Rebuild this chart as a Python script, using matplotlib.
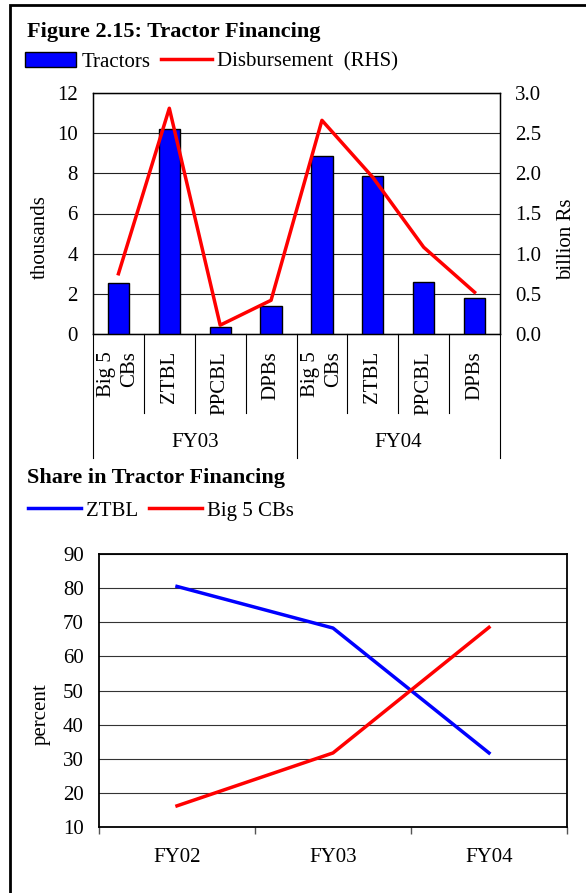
import numpy as np
import matplotlib
matplotlib.use('Agg')
import matplotlib.pyplot as plt
from matplotlib.lines import Line2D
from matplotlib.patches import Patch, Rectangle

plt.rcParams['font.family'] = ['Liberation Serif', 'DejaVu Serif']

# data
banks = ['Big 5\nCBs', 'ZTBL', 'PPCBL', 'DPBs', 'Big 5\nCBs', 'ZTBL', 'PPCBL', 'DPBs']
years_top = ['FY03', 'FY04']
tractors = [2.55, 10.2, 0.35, 1.4, 8.85, 7.85, 2.6, 1.8]          # thousands
disbursement = [0.75, 2.81, 0.11, 0.42, 2.66, 1.95, 1.08, 0.52]    # billion Rs (RHS)

years = ['FY02', 'FY03', 'FY04']
share_ztbl = [80.5, 68.3, 31.7]
share_big5 = [16.2, 31.7, 68.5]

W, H = 586, 893
fig = plt.figure(figsize=(W / 100, H / 100), dpi=100)
fs = 15

# outer frame (left and top edges visible)
fig.add_artist(Rectangle((10 / W, -0.05), 1.2, 1 - 5 / H + 0.05, transform=fig.transFigure,
                         fill=False, ec='black', lw=2))

# ---- top chart ----
fig.text(27 / W, 1 - 32 / H, 'Figure 2.15: Tractor Financing', fontsize=16, fontweight='bold',
         va='center', ha='left')

ax = fig.add_axes([93 / W, 1 - 334 / H, 407 / W, 241 / H])
x = np.arange(len(banks))
ax.bar(x, tractors, width=0.42, color='#0000FF', edgecolor='black', lw=1, zorder=3)
ax.set_xlim(-0.5, len(banks) - 0.5)
ax.set_ylim(0, 12)
ax.set_yticks(range(0, 13, 2))
ax.grid(axis='y', color='#222222', lw=0.8, zorder=0)
ax.set_xticks([])
ax.tick_params(axis='y', length=0, labelsize=fs, pad=11)
ax.spines[:].set_color('black')
ax.spines[:].set_linewidth(1)

ax2 = ax.twinx()
ax2.plot(x, disbursement, color='#FF0000', lw=2.5, zorder=4)
ax2.set_ylim(0, 3)
ax2.set_yticks(np.arange(0, 3.01, 0.5))
ax2.set_yticklabels(['%.1f' % v for v in np.arange(0, 3.01, 0.5)])
ax2.tick_params(axis='y', length=0, labelsize=fs, pad=11)
ax2.set_xlim(-0.5, len(banks) - 0.5)

# category labels and separators
tr = ax.get_xaxis_transform()
for i, b in enumerate(banks):
    ax.text(i, -0.07, b, transform=tr, rotation=90, ha='center', va='top',
            multialignment='right', fontsize=fs, linespacing=1.3)
for s in np.arange(0.5, len(banks) - 1, 1.0):
    long = (s == 3.5)
    ax.add_line(Line2D([s, s], [0, -0.515 if long else -0.328], transform=tr,
                       color='black', lw=0.8, clip_on=False))
for s in [-0.5, len(banks) - 0.5]:
    ax.add_line(Line2D([s, s], [0, -0.515], transform=tr, color='black', lw=0.8, clip_on=False))
for j, yr in enumerate(years_top):
    ax.text(1.5 + 4 * j, -0.45, yr, transform=tr, ha='center', va='center', fontsize=fs)

fig.text(40 / W, 1 - 237 / H, 'thousands', rotation=90, ha='center', va='center', fontsize=fs)
fig.text(567 / W, 1 - 239 / H, 'billion Rs', rotation=90, ha='center', va='center', fontsize=fs)

handles1 = [Patch(facecolor='#0000FF', edgecolor='black', lw=1),
            Line2D([], [], color='#FF0000', lw=2.5)]
fig.legend(handles1, ['Tractors', 'Disbursement  (RHS)'], loc='center left',
           bbox_to_anchor=(25 / W, 1 - 62 / H), ncol=2, frameon=False, fontsize=fs,
           handlelength=2.45, handleheight=0.7, handletextpad=0.26, columnspacing=0.5,
           borderpad=0, borderaxespad=0)

# ---- bottom chart ----
fig.text(27 / W, 1 - 478 / H, 'Share in Tractor Financing', fontsize=16, fontweight='bold',
         va='center', ha='left')

bx = fig.add_axes([99 / W, 1 - 827 / H, 468 / W, 273 / H])
xp = np.arange(len(years)) + 0.5
bx.plot(xp, share_ztbl, color='#0000FF', lw=2.5)
bx.plot(xp, share_big5, color='#FF0000', lw=2.5)
bx.set_xlim(0, len(years))
bx.set_ylim(10, 90)
bx.set_yticks(range(10, 91, 10))
bx.grid(axis='y', color='#333333', lw=0.8)
bx.set_xticks(range(0, len(years) + 1))
bx.set_xticklabels([])
bx.set_xticks(xp, minor=True)
bx.set_xticklabels(years, minor=True)
bx.tick_params(axis='x', which='major', length=5, direction='out', width=1, color='#555555')
bx.tick_params(axis='x', which='minor', length=0, labelsize=fs, pad=15)
bx.tick_params(axis='y', length=0, labelsize=fs, pad=11)
bx.spines[:].set_color('black')
bx.spines[:].set_linewidth(1.3)

fig.text(41 / W, 1 - 714 / H, 'percent', rotation=90, ha='center', va='center', fontsize=fs)

handles2 = [Line2D([], [], color='#0000FF', lw=2.5), Line2D([], [], color='#FF0000', lw=2.5)]
fig.legend(handles2, ['ZTBL', 'Big 5 CBs'], loc='center left',
           bbox_to_anchor=(28 / W, 1 - 511 / H), ncol=2, frameon=False, fontsize=fs,
           handlelength=2.55, handletextpad=0.25, columnspacing=0.5,
           borderpad=0, borderaxespad=0)

fig.savefig('out.png', dpi=100, facecolor='white')
